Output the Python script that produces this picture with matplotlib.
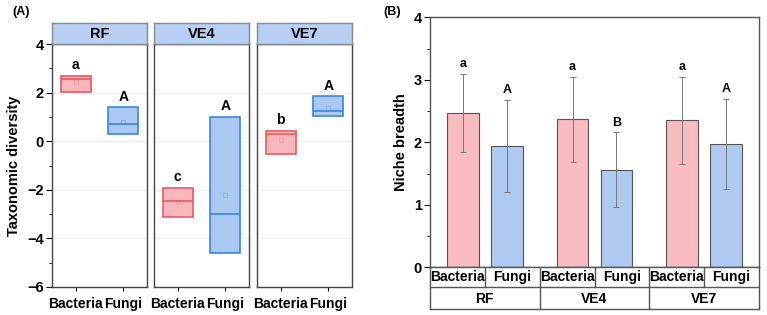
import matplotlib
matplotlib.use("Agg")
import matplotlib.pyplot as plt

plt.rcParams['font.family'] = ['Liberation Sans', 'DejaVu Sans']
plt.rcParams['font.weight'] = 'bold'

# ---- data ----
sites = ['RF', 'VE4', 'VE7']
kingdoms = ['Bacteria', 'Fungi']

# panel A: taxonomic diversity boxes (q1, median, q3, mean) per site, bacteria then fungi
bac_q1 = [2.03, -3.12, -0.54]
bac_med = [2.55, -2.45, 0.28]
bac_q3 = [2.69, -1.91, 0.44]
bac_mean = [2.44, -2.5, 0.06]
fun_q1 = [0.30, -4.60, 1.03]
fun_med = [0.71, -3.00, 1.25]
fun_q3 = [1.40, 0.99, 1.84]
fun_mean = [0.80, -2.20, 1.36]
bac_letters_a = ['a', 'c', 'b']
fun_letters_a = ['A', 'A', 'A']

# panel B: niche breadth mean +- sd
bac_niche = [2.47, 2.37, 2.35]
bac_sd = [0.63, 0.68, 0.70]
fun_niche = [1.94, 1.56, 1.97]
fun_sd = [0.74, 0.60, 0.72]
bac_letters_b = ['a', 'a', 'a']
fun_letters_b = ['A', 'B', 'A']

pink_fill = '#F7B7BC'
pink_edge = '#EE5860'
blue_fill = '#AAC8F2'
blue_edge = '#3A84E4'

W, H = 767, 315
fig = plt.figure(figsize=(W / 100, H / 100), dpi=100)


def fx(px):
    return px / W


def fy(py):
    return 1 - py / H


# ---- panel A ----
panel_x = [(52, 147), (154, 249), (257, 352)]
top_px, bot_px, strip_px = 44, 287, 23
for i, (x0, x1) in enumerate(panel_x):
    ax = fig.add_axes([fx(x0), fy(bot_px), fx(x1 - x0), (bot_px - top_px) / H])
    ax.set_xlim(0.5, 2.5)
    ax.set_ylim(-6, 4)
    ax.set_yticks([-6, -4, -2, 0, 2, 4])
    ax.grid(axis='y', color='#eeeeee', lw=0.8)
    ax.set_axisbelow(True)
    ax.set_xticks([1, 2])
    ax.set_xticklabels(kingdoms, fontsize=10, fontweight='bold')
    ax.tick_params(axis='x', length=3, pad=4)
    for s in ax.spines.values():
        s.set_color('#444444')
        s.set_linewidth(1.0)
    if i == 0:
        ax.set_yticks([-5, -3, -1, 1, 3], minor=True)
        ax.tick_params(axis='y', which='major', length=4, labelsize=10.5, pad=2)
        ax.tick_params(axis='y', which='minor', length=2)
        for lab in ax.get_yticklabels():
            lab.set_fontweight('bold')
        ax.set_ylabel('Taxonomic diversity', fontsize=10.5, fontweight='bold', labelpad=4)
    else:
        ax.tick_params(axis='y', length=0, labelleft=False)

    w = 0.63
    for pos, q1, med, q3, mn, lab, fc, ec in [
            (1, bac_q1[i], bac_med[i], bac_q3[i], bac_mean[i], bac_letters_a[i], pink_fill, pink_edge),
            (2, fun_q1[i], fun_med[i], fun_q3[i], fun_mean[i], fun_letters_a[i], blue_fill, blue_edge)]:
        ax.bar(pos, q3 - q1, bottom=q1, width=w, color=fc, edgecolor=ec, linewidth=1.2, zorder=3)
        ax.hlines(med, pos - w / 2, pos + w / 2, color=ec, lw=1.2, zorder=4)
        ax.plot(pos, mn, marker='s', ms=3, mfc='none', mec=ec, mew=0.5, alpha=0.4, zorder=4)
        ax.text(pos, q3 + 0.15, lab, ha='center', va='bottom', fontsize=10, fontweight='bold')

    # strip
    sax = fig.add_axes([fx(x0), fy(top_px), fx(x1 - x0), (top_px - strip_px) / H])
    sax.set_facecolor('#B7CFF4')
    sax.set_xticks([])
    sax.set_yticks([])
    for s in sax.spines.values():
        s.set_color('#888888')
        s.set_linewidth(1.0)
    sax.text(0.5, 0.48, sites[i], ha='center', va='center', fontsize=10.5,
             fontweight='bold', transform=sax.transAxes)

fig.text(fx(12), fy(12), '(A)', ha='left', va='center', fontsize=9, fontweight='bold')

# ---- panel B ----
bx0, bx1 = 430, 759
btop, bbot, tbot = 17.3, 267.3, 309.3
axb = fig.add_axes([fx(bx0), fy(bbot), fx(bx1 - bx0), (bbot - btop) / H])
axb.set_xlim(0, 3)
axb.set_ylim(0, 4)
axb.set_yticks([0, 1, 2, 3, 4])
axb.set_yticks([0.5, 1.5, 2.5, 3.5], minor=True)
axb.tick_params(axis='y', which='major', length=4, labelsize=10.5, pad=2)
axb.tick_params(axis='y', which='minor', length=2)
for lab in axb.get_yticklabels():
    lab.set_fontweight('bold')
axb.set_xticks([])
axb.set_ylabel('Niche breadth', fontsize=10.5, fontweight='bold', labelpad=4)
for s in axb.spines.values():
    s.set_color('#555555')
    s.set_linewidth(1.0)

bw = 0.29
xs_b = [i + 0.3 for i in range(3)]
xs_f = [i + 0.7 for i in range(3)]
axb.bar(xs_b, bac_niche, width=bw, color='#F8BBC0', edgecolor='#555555', linewidth=0.8, zorder=2)
axb.bar(xs_f, fun_niche, width=bw, color='#AECAF1', edgecolor='#555555', linewidth=0.8, zorder=2)
axb.errorbar(xs_b, bac_niche, yerr=bac_sd, fmt='none', ecolor='#777777', elinewidth=0.7, capsize=2, capthick=0.7, zorder=3)
axb.errorbar(xs_f, fun_niche, yerr=fun_sd, fmt='none', ecolor='#777777', elinewidth=0.7, capsize=2, capthick=0.7, zorder=3)
for i in range(3):
    axb.text(xs_b[i], bac_niche[i] + bac_sd[i] + 0.06, bac_letters_b[i], ha='center', va='bottom', fontsize=9, fontweight='bold')
    axb.text(xs_f[i], fun_niche[i] + fun_sd[i] + 0.06, fun_letters_b[i], ha='center', va='bottom', fontsize=9, fontweight='bold')

# table below panel B
axt = fig.add_axes([fx(bx0), fy(tbot), fx(bx1 - bx0), (tbot - bbot) / H])
axt.set_xlim(0, 3)
axt.set_ylim(0, 2)
axt.set_xticks([])
axt.set_yticks([])
for s in axt.spines.values():
    s.set_color('#555555')
    s.set_linewidth(1.0)
axt.axhline(1.05, color='#555555', lw=1.0)
for xv in [1, 2]:
    axt.axvline(xv, color='#555555', lw=1.0)
for xv in [0.5, 1.5, 2.5]:
    axt.plot([xv, xv], [1.05, 2], color='#555555', lw=1.0)
for i in range(3):
    axt.text(i + 0.25, 1.52, kingdoms[0], ha='center', va='center', fontsize=10, fontweight='bold')
    axt.text(i + 0.75, 1.52, kingdoms[1], ha='center', va='center', fontsize=10, fontweight='bold')
    axt.text(i + 0.5, 0.5, sites[i], ha='center', va='center', fontsize=10, fontweight='bold')

fig.text(fx(383), fy(12), '(B)', ha='left', va='center', fontsize=9, fontweight='bold')

fig.savefig('out.png', dpi=100, facecolor='white')
